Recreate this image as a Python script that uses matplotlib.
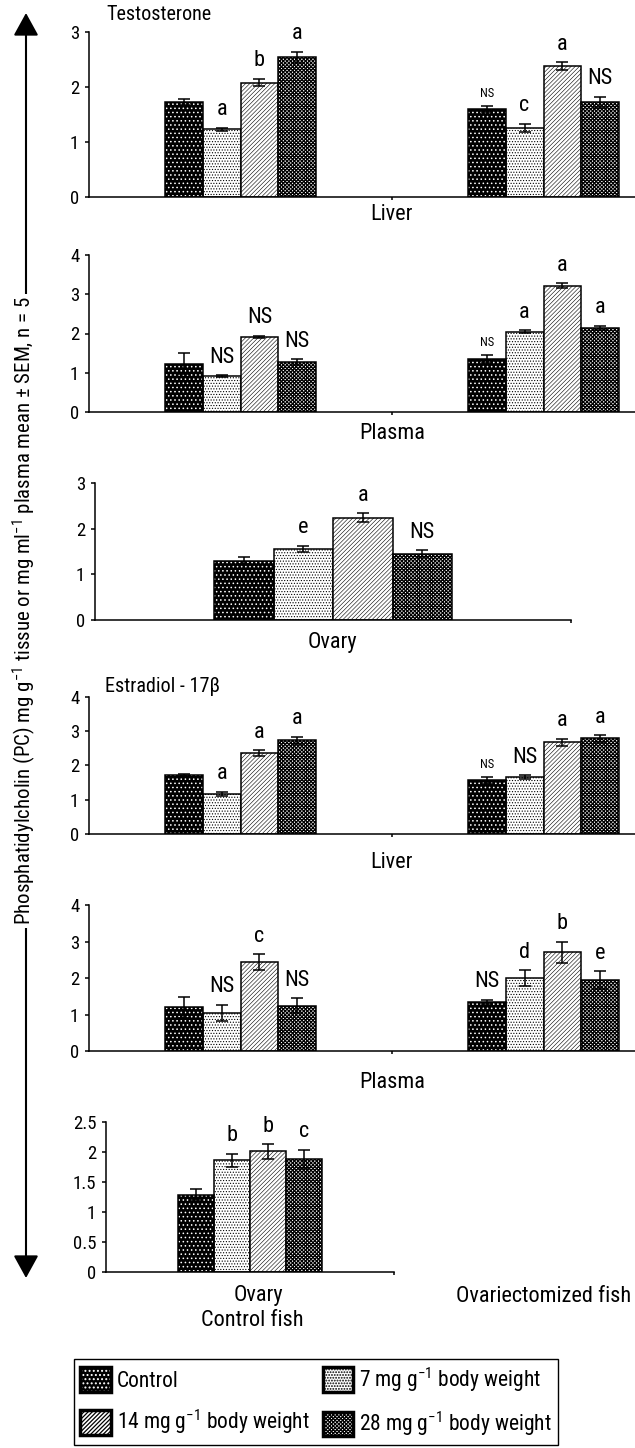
import numpy as np
import matplotlib
matplotlib.use('Agg')
import matplotlib.pyplot as plt
from matplotlib import font_manager as fm
from matplotlib.patches import Patch, FancyArrowPatch
from matplotlib.ticker import FormatStrFormatter

# narrow sans like the original (Arial Narrow); fall back to Liberation Sans
narrow = ['Liberation Sans Narrow', 'Arial Narrow', 'Nimbus Sans Narrow', 'Roboto Condensed',
          'PT Sans Narrow', 'Archivo Narrow', 'Liberation Sans']
fams = {f.name for f in fm.fontManager.ttflist}
main_font = next((n for n in narrow if n in fams), 'DejaVu Sans')
plt.rcParams['font.family'] = [main_font, 'Liberation Sans', 'DejaVu Sans']
plt.rcParams['mathtext.fontset'] = 'custom'
plt.rcParams['mathtext.rm'] = main_font
plt.rcParams['mathtext.it'] = main_font + ':italic'
plt.rcParams['mathtext.bf'] = main_font + ':bold'

W, H = 635, 1448

# legend / dose groups
doses = ['Control', '7 mg g$^{-1}$ body weight', '14 mg g$^{-1}$ body weight', '28 mg g$^{-1}$ body weight']

# Testosterone - liver (control fish, ovariectomized fish)
t_liver_c = [1.73, 1.23, 2.08, 2.54]
t_liver_c_sem = [0.06, 0.03, 0.07, 0.10]
t_liver_c_lbl = ['', 'a', 'b', 'a']
t_liver_o = [1.60, 1.26, 2.38, 1.72]
t_liver_o_sem = [0.06, 0.07, 0.07, 0.10]
t_liver_o_lbl = ['ns', 'c', 'a', 'NS']

# Testosterone - plasma
t_plasma_c = [1.23, 0.91, 1.91, 1.27]
t_plasma_c_sem = [0.27, 0.03, 0.03, 0.08]
t_plasma_c_lbl = ['', 'NS', 'NS', 'NS']
t_plasma_o = [1.36, 2.05, 3.22, 2.15]
t_plasma_o_sem = [0.10, 0.03, 0.06, 0.05]
t_plasma_o_lbl = ['ns', 'a', 'a', 'a']

# Testosterone - ovary (control fish only)
t_ovary_c = [1.30, 1.56, 2.24, 1.45]
t_ovary_c_sem = [0.08, 0.07, 0.10, 0.08]
t_ovary_c_lbl = ['', 'e', 'a', 'NS']

# Estradiol - liver
e_liver_c = [1.72, 1.18, 2.36, 2.74]
e_liver_c_sem = [0.03, 0.06, 0.09, 0.10]
e_liver_c_lbl = ['', 'a', 'a', 'a']
e_liver_o = [1.57, 1.66, 2.68, 2.79]
e_liver_o_sem = [0.10, 0.05, 0.10, 0.10]
e_liver_o_lbl = ['ns', 'NS', 'a', 'a']

# Estradiol - plasma
e_plasma_c = [1.20, 1.05, 2.44, 1.24]
e_plasma_c_sem = [0.29, 0.22, 0.21, 0.20]
e_plasma_c_lbl = ['', 'NS', 'c', 'NS']
e_plasma_o = [1.35, 1.99, 2.70, 1.95]
e_plasma_o_sem = [0.05, 0.22, 0.30, 0.24]
e_plasma_o_lbl = ['NS', 'd', 'b', 'e']

# Estradiol - ovary (control fish only)
e_ovary_c = [1.29, 1.86, 2.01, 1.89]
e_ovary_c_sem = [0.09, 0.11, 0.12, 0.15]
e_ovary_c_lbl = ['', 'b', 'b', 'c']

hatches = ['....', '......', '////////', 'xxxxxxxxx']
hatch_lw = [0.6, 0.5, 0.4, 0.9]
bw = 0.125
offs = np.array([-1.5, -0.5, 0.5, 1.5]) * bw


def px_axes(x0, x1, y0, y1):
    # pixel box -> figure fraction
    return [x0 / W, 1 - y1 / H, (x1 - x0) / W, (y1 - y0) / H]


def draw_panel(ax, cats, ymax, yticks):
    for c, (m, s, lbl) in enumerate(cats):
        x = c + 0.5 + offs
        for k in range(4):
            plt.rcParams['hatch.linewidth'] = hatch_lw[k]
            if k == 0:
                ax.bar(x[k], m[k], width=bw, color='black', edgecolor='white', hatch=hatches[k], linewidth=0, zorder=2)
                ax.bar(x[k], m[k], width=bw, fill=False, edgecolor='black', linewidth=1.1, zorder=3)
            else:
                ax.bar(x[k], m[k], width=bw, color='white', edgecolor='black', hatch=hatches[k], linewidth=1.1, zorder=2)
        ax.errorbar(x, m, yerr=s, fmt='none', ecolor='black', elinewidth=1.1, capsize=4.5, capthick=1.1, zorder=4)
        for k in range(4):
            if lbl[k] == '':
                continue
            small = lbl[k] == 'ns'
            ax.annotate(lbl[k].upper() if small else lbl[k], (x[k], m[k] + s[k]),
                        xytext=(0, 6 if small else 9), textcoords='offset points',
                        ha='center', va='baseline', fontsize=9 if small else 16)
    ax.set_xlim(0, 2)
    ax.set_ylim(0, ymax)
    ax.set_yticks(yticks)
    ax.yaxis.set_major_formatter(FormatStrFormatter('%g'))
    ax.set_xticks([1])
    ax.set_xticklabels([])
    ax.spines[['top', 'right']].set_visible(False)
    ax.spines[['left', 'bottom']].set_linewidth(1.1)
    ax.tick_params(axis='y', length=3, width=1.1, labelsize=13.5, pad=4)
    ax.tick_params(axis='x', length=2.5, width=1.1)


fig = plt.figure(figsize=(W / 100, H / 100), dpi=100)

ax1 = fig.add_axes(px_axes(89, 695, 32, 197))
draw_panel(ax1, [(t_liver_c, t_liver_c_sem, t_liver_c_lbl), (t_liver_o, t_liver_o_sem, t_liver_o_lbl)], 3, [0, 1, 2, 3])

ax2 = fig.add_axes(px_axes(89, 695, 255, 412))
draw_panel(ax2, [(t_plasma_c, t_plasma_c_sem, t_plasma_c_lbl), (t_plasma_o, t_plasma_o_sem, t_plasma_o_lbl)], 4, [0, 1, 2, 3, 4])

ax3 = fig.add_axes(px_axes(95, 571, 483, 620))
draw_panel(ax3, [(t_ovary_c, t_ovary_c_sem, t_ovary_c_lbl)], 3, [0, 1, 2, 3])
ax3.set_xlim(0, 1)

ax4 = fig.add_axes(px_axes(89, 695, 697, 834))
draw_panel(ax4, [(e_liver_c, e_liver_c_sem, e_liver_c_lbl), (e_liver_o, e_liver_o_sem, e_liver_o_lbl)], 4, [0, 1, 2, 3, 4])

ax5 = fig.add_axes(px_axes(89, 695, 905, 1051))
draw_panel(ax5, [(e_plasma_c, e_plasma_c_sem, e_plasma_c_lbl), (e_plasma_o, e_plasma_o_sem, e_plasma_o_lbl)], 4, [0, 1, 2, 3, 4])

ax6 = fig.add_axes(px_axes(106, 394, 1122, 1272))
draw_panel(ax6, [(e_ovary_c, e_ovary_c_sem, e_ovary_c_lbl)], 2.5, [0, 0.5, 1, 1.5, 2, 2.5])
ax6.set_xlim(0, 1)


def ftext(x, y, s, **kw):
    fig.text(x / W, 1 - y / H, s, **kw)


ftext(106, 15, 'Testosterone', fontsize=14.5, va='center', ha='left')
ftext(105, 687, 'Estradiol - 17β', fontsize=14.5, va='center', ha='left')
ftext(392, 214, 'Liver', fontsize=16, ha='center', va='center')
ftext(392, 433, 'Plasma', fontsize=16, ha='center', va='center')
ftext(332, 642, 'Ovary', fontsize=16, ha='center', va='center')
ftext(392, 863, 'Liver', fontsize=16, ha='center', va='center')
ftext(392, 1082, 'Plasma', fontsize=16, ha='center', va='center')
ftext(258, 1296, 'Ovary', fontsize=16, ha='center', va='center')
ftext(252, 1320, 'Control fish', fontsize=16, ha='center', va='center')
ftext(544, 1297, 'Ovariectomized fish', fontsize=16, ha='center', va='center')

# long double arrow on the left with the y label over it
arr = FancyArrowPatch((26 / W, 1 - 1278 / H), (26 / W, 1 - 13 / H), transform=fig.transFigure,
                      arrowstyle='<|-|>,head_length=1.0,head_width=0.55', mutation_scale=14,
                      color='black', lw=1.5, shrinkA=0, shrinkB=0)
fig.add_artist(arr)
ftext(24, 611, 'Phosphatidylcholin (PC) mg g$^{-1}$ tissue or mg ml$^{-1}$ plasma mean ± SEM, n = 5',
      fontsize=15, rotation=90, ha='center', va='center',
      bbox=dict(facecolor='white', edgecolor='none', pad=2))

# legend
handles = []
for k in [0, 2, 1, 3]:
    plt.rcParams['hatch.linewidth'] = hatch_lw[k]
    if k == 0:
        h = (Patch(facecolor='black', edgecolor='white', hatch=hatches[0], linewidth=0),
             Patch(fill=False, edgecolor='black', linewidth=2.5))
    else:
        h = (Patch(facecolor='white', edgecolor='black', hatch=hatches[k], linewidth=0),
             Patch(fill=False, edgecolor='black', linewidth=2.5))
    handles.append(h)
leg = fig.legend(handles, [doses[k] for k in [0, 2, 1, 3]], loc='upper left',
                 bbox_to_anchor=(74 / W, 1 - 1359 / H), borderaxespad=0, ncol=2, fontsize=15.5,
                 frameon=True, fancybox=False, edgecolor='black', framealpha=1,
                 handlelength=1.4, handleheight=1.4, handletextpad=0.3,
                 columnspacing=0.6, borderpad=0.3, labelspacing=0.72)
leg.get_frame().set_linewidth(1.0)

fig.savefig('out.png', dpi=100)
